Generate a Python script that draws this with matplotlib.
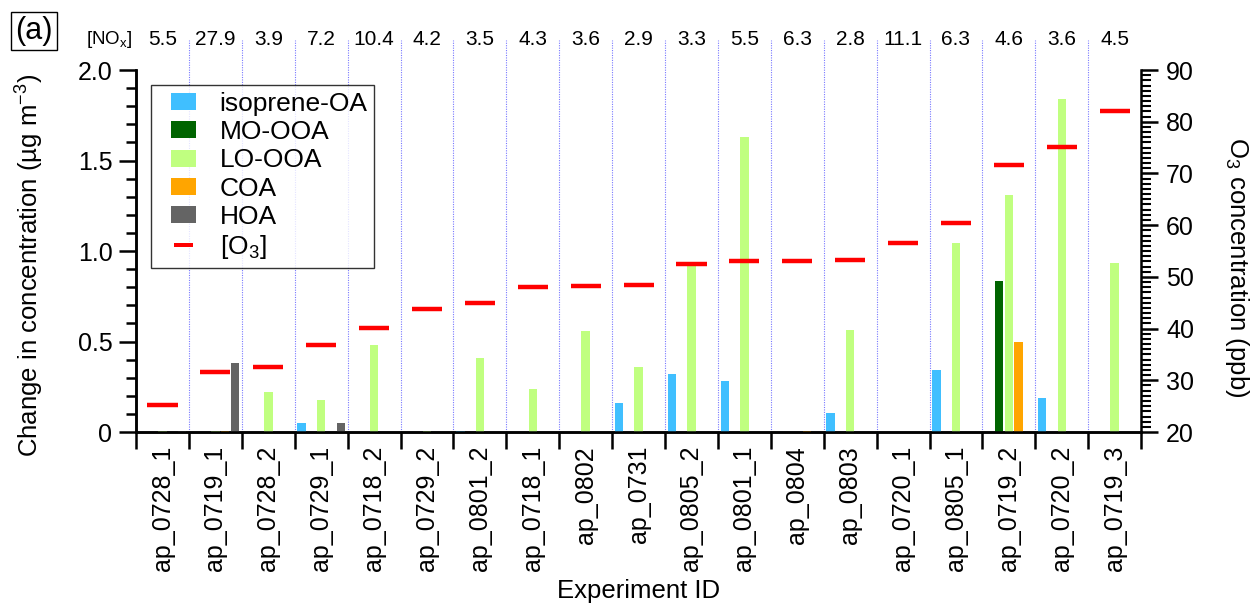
import numpy as np
import matplotlib
matplotlib.use("Agg")
import matplotlib.pyplot as plt
from matplotlib.patches import Patch, Rectangle
from matplotlib.legend_handler import HandlerPatch
from matplotlib.ticker import MultipleLocator, FixedLocator
import matplotlib.transforms as mtransforms

plt.rcParams['font.family'] = ['Liberation Sans', 'DejaVu Sans']
plt.rcParams['mathtext.fontset'] = 'custom'
plt.rcParams['mathtext.rm'] = 'Liberation Sans'
plt.rcParams['mathtext.it'] = 'Liberation Sans'

# data
experiments = ['ap_0728_1', 'ap_0719_1', 'ap_0728_2', 'ap_0729_1', 'ap_0718_2',
               'ap_0729_2', 'ap_0801_2', 'ap_0718_1', 'ap_0802', 'ap_0731',
               'ap_0805_2', 'ap_0801_1', 'ap_0804', 'ap_0803', 'ap_0720_1',
               'ap_0805_1', 'ap_0719_2', 'ap_0720_2', 'ap_0719_3']
nox = ['5.5', '27.9', '3.9', '7.2', '10.4', '4.2', '3.5', '4.3', '3.6', '2.9',
       '3.3', '5.5', '6.3', '2.8', '11.1', '6.3', '4.6', '3.6', '4.5']
isoprene_oa = [0.0, 0.0, 0.0, 0.05, 0.0, 0.0, 0.004, 0.0, 0.0, 0.158,
               0.32, 0.284, 0.0, 0.105, 0.0, 0.343, 0.0, 0.19, 0.0]
mo_ooa = [0.0, 0.0, 0.0, 0.0, 0.0, 0.0, 0.0, 0.0, 0.0, 0.0,
          0.0, 0.0, 0.0, 0.0, 0.0, 0.0, 0.834, 0.0, 0.0]
lo_ooa = [0.003, 0.003, 0.223, 0.178, 0.48, 0.004, 0.407, 0.238, 0.558, 0.359,
          0.919, 1.632, 0.0, 0.564, 0.002, 1.046, 1.309, 1.841, 0.932]
coa = [0.0, 0.005, 0.0, 0.0, 0.0, 0.0, 0.0, 0.0, 0.0, 0.0,
       0.0, 0.0, 0.005, 0.0, 0.0, 0.0, 0.50, 0.0, 0.0]
hoa = [0.004, 0.383, 0.0, 0.048, 0.0, 0.0, 0.0, 0.0, 0.0, 0.0,
       0.0, 0.0, 0.0, 0.0, 0.0, 0.0, 0.0, 0.0, 0.0]
o3 = [25.2, 31.7, 32.6, 36.8, 40.2, 43.8, 44.9, 48.0, 48.2, 48.5,
      52.4, 53.1, 53.1, 53.2, 56.5, 60.5, 71.6, 75.1, 82.0]

series = [('isoprene-OA', isoprene_oa, '#40BFFF'),
          ('MO-OOA', mo_ooa, '#006400'),
          ('LO-OOA', lo_ooa, '#C0FF80'),
          ('COA', coa, '#FFA500'),
          ('HOA', hoa, '#646464')]

fig = plt.figure(figsize=(12.54, 6.09), dpi=100)
ax = fig.add_axes([0.1085, 0.2906, 0.8015, 0.5944])
ax2 = ax.twinx()

x = np.arange(len(experiments))
step = 0.185
for k, (name, vals, col) in enumerate(series):
    ax.bar(x + (k - 2) * step, vals, width=0.16, color=col, zorder=3)

ax2.hlines(o3, x - 0.285, x + 0.285, colors='red', linewidth=3.2, zorder=4)

ax.set_xlim(-0.5, len(experiments) - 0.5)
ax.set_ylim(0, 2.0)
ax2.set_ylim(20, 90)

# category dividers
for b in np.arange(0.5, len(experiments) - 0.5):
    ax.axvline(b, ymin=0, ymax=1.083, color='#7878ff', linestyle=(0, (1, 1.2)),
               linewidth=0.8, clip_on=False, zorder=1)

# NOx values above each category
trans = mtransforms.blended_transform_factory(ax.transData, ax.transAxes)
for i, v in enumerate(nox):
    ax.text(i, 1.083, v, transform=trans, ha='center', va='center', fontsize=15)
fig.text(109 / 1254, 1 - 40 / 609, '[NO$_x$]', ha='center', va='center', fontsize=13.5)
fig.text(34 / 1254, 1 - 31 / 609, '(a)', ha='center', va='center', fontsize=22,
         bbox=dict(boxstyle='square,pad=0.13', facecolor='white', edgecolor='black', linewidth=1))

for a in (ax, ax2):
    a.spines['top'].set_visible(False)
    for s in a.spines.values():
        s.set_linewidth(1.8)
ax.spines['right'].set_visible(False)

ax.xaxis.set_major_locator(FixedLocator(np.arange(-0.5, len(experiments))))
ax.xaxis.set_minor_locator(FixedLocator(x))
ax.set_xticklabels([], minor=False)
ax.set_xticklabels(experiments, minor=True, rotation=90, fontsize=18)
ax.tick_params(axis='x', which='major', direction='out', length=12, width=1.8)
ax.tick_params(axis='x', which='minor', length=0, pad=10)

ax.set_yticks([0, 0.5, 1.0, 1.5, 2.0])
ax.set_yticklabels(['0', '0.5', '1.0', '1.5', '2.0'])
ax.yaxis.set_minor_locator(MultipleLocator(0.1))
ax.tick_params(axis='y', which='major', direction='out', length=12, width=1.8, labelsize=18, pad=5)
ax.tick_params(axis='y', which='minor', direction='out', length=7, width=1.8)

ax2.yaxis.set_major_locator(MultipleLocator(10))
ax2.yaxis.set_minor_locator(MultipleLocator(1))
ax2.tick_params(axis='y', which='major', direction='out', length=12, width=1.8, labelsize=18, pad=6)
ax2.tick_params(axis='y', which='minor', direction='out', length=7, width=1.5)

ax.set_ylabel('Change in concentration (µg m$^{-3}$)', fontsize=18.5)
ax.yaxis.set_label_coords(-0.09, 0.46)
ax2.set_ylabel('O$_3$ concentration (ppb)', fontsize=18.5, rotation=270, va='center')
ax2.yaxis.set_label_coords(1.095, 0.455)
ax.set_xlabel('Experiment ID', fontsize=18.5)
ax.xaxis.set_label_coords(0.5, -0.405)


def box_handle(legend, orig_handle, xdescent, ydescent, width, height, fontsize):
    w, h = 18.0, 12.2
    return Rectangle((-xdescent + 9.4, -ydescent + (height - h) / 2), w, h)


def dash_handle(legend, orig_handle, xdescent, ydescent, width, height, fontsize):
    w, h = 13.7, 2.6
    return Rectangle((-xdescent + 11.5, -ydescent + (height - h) / 2), w, h)


handles = [Patch(facecolor=c, edgecolor='none', label=n) for n, _, c in series]
o3_handle = Patch(facecolor='red', edgecolor='none', label='[O$_3$]')
handles.append(o3_handle)
hmap = {h: HandlerPatch(patch_func=box_handle) for h in handles[:-1]}
hmap[o3_handle] = HandlerPatch(patch_func=dash_handle)
leg = ax2.legend(handles=handles, handler_map=hmap, loc='upper left',
                 bbox_to_anchor=(0.015, 0.958), borderaxespad=0, fontsize=19,
                 frameon=True, fancybox=False, handlelength=1.82, handleheight=0.7,
                 handletextpad=0.53, labelspacing=0.16, borderpad=0.25)
leg.get_frame().set_edgecolor('black')
leg.get_frame().set_linewidth(1.0)
leg.set_zorder(10)

fig.savefig('out.png', dpi=100)
